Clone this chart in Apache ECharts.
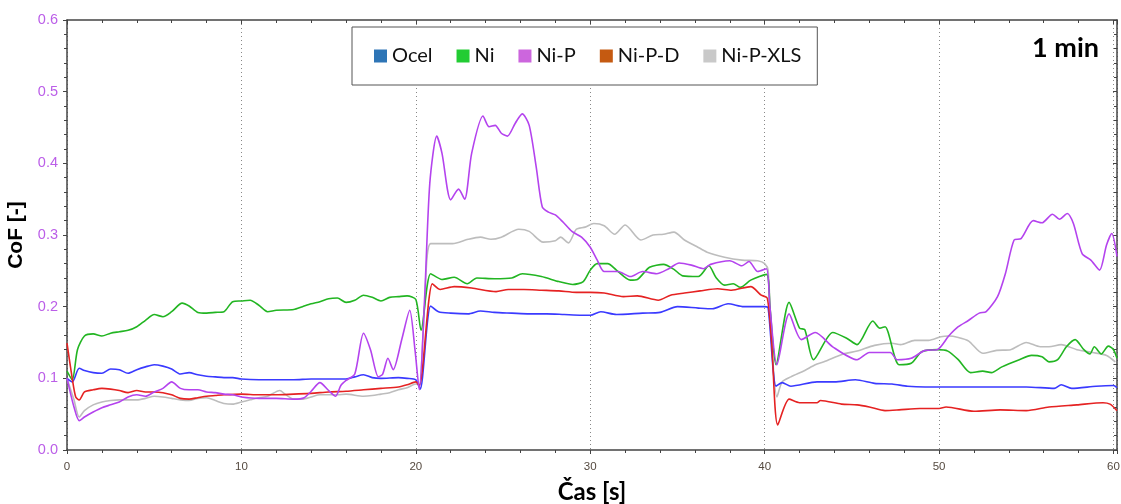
<!DOCTYPE html>
<html>
<head>
<meta charset="utf-8">
<script src="https://cdn.jsdelivr.net/npm/echarts@6/dist/echarts.min.js"></script>
<style>html,body{margin:0;padding:0;background:#fff;}#c{width:1121px;height:504px;}</style>
</head>
<body>
<div id="c"></div>
<script>
const seriesNames = ['Ocel', 'Ni', 'Ni-P', 'Ni-P-D', 'Ni-P-XLS'];
const xTicks = [0, 10, 20, 30, 40, 50, 60];
const yTicks = [0.0, 0.1, 0.2, 0.3, 0.4, 0.5, 0.6];

const ocel = [[0,0.100],[0.3,0.095],[0.7,0.114],[1,0.111],[1.5,0.108],[2,0.107],[2.5,0.113],[3,0.112],[3.5,0.107],[4,0.112],[4.5,0.116],[5,0.119],[5.5,0.117],[6,0.113],[6.5,0.106],[7,0.108],[7.5,0.105],[8,0.103],[8.5,0.102],[9,0.101],[9.5,0.101],[10,0.099],[11,0.098],[12,0.098],[13,0.098],[14,0.099],[15,0.099],[16,0.099],[16.5,0.102],[17,0.105],[17.5,0.101],[18,0.100],[19,0.101],[19.5,0.100],[20,0.098],[20.25,0.085],[20.85,0.201],[21.3,0.193],[22,0.191],[23,0.190],[23.7,0.194],[24.5,0.192],[25.5,0.191],[26.5,0.190],[27.5,0.190],[28.5,0.189],[29.5,0.188],[30,0.188],[30.6,0.193],[31.5,0.189],[33,0.191],[34,0.192],[35,0.200],[36.2,0.198],[37,0.197],[37.9,0.204],[38.8,0.200],[40,0.200],[40.2,0.198],[40.65,0.089],[41,0.094],[41.5,0.089],[43,0.095],[44,0.095],[45.2,0.098],[46.3,0.093],[47.3,0.092],[48.2,0.089],[49.2,0.088],[51,0.088],[53,0.088],[55,0.088],[56.6,0.086],[57,0.091],[57.6,0.086],[59,0.089],[60,0.090],[60.2,0.087]];

const ni = [[0,0.110],[0.3,0.098],[0.6,0.140],[1,0.159],[1.5,0.162],[2,0.159],[2.5,0.163],[3,0.165],[3.5,0.167],[4,0.172],[4.5,0.181],[5,0.189],[5.5,0.186],[6,0.193],[6.6,0.205],[7,0.201],[7.5,0.192],[8,0.191],[8.5,0.192],[9,0.193],[9.5,0.207],[10,0.208],[10.5,0.209],[11,0.202],[11.5,0.193],[12,0.195],[13,0.196],[13.5,0.200],[14,0.204],[14.5,0.207],[15,0.211],[15.5,0.212],[16,0.206],[16.5,0.209],[17,0.216],[17.5,0.213],[18,0.208],[18.5,0.213],[19,0.214],[19.5,0.215],[20,0.210],[20.3,0.167],[20.85,0.246],[21.5,0.238],[22.2,0.241],[22.95,0.232],[23.5,0.240],[24.5,0.239],[25.5,0.240],[26.1,0.246],[27.2,0.242],[28.2,0.235],[29,0.231],[29.6,0.235],[30,0.251],[30.4,0.260],[31,0.260],[31.5,0.251],[32.3,0.237],[32.7,0.238],[33.4,0.255],[34.2,0.259],[34.8,0.252],[35.3,0.243],[36.2,0.242],[36.8,0.257],[37.2,0.241],[37.7,0.230],[38.2,0.232],[38.6,0.227],[39.2,0.237],[40.1,0.245],[40.3,0.200],[40.65,0.119],[41.4,0.206],[42,0.170],[42.3,0.168],[42.8,0.126],[43.9,0.164],[44.7,0.156],[45.3,0.147],[46.2,0.180],[46.6,0.170],[46.9,0.172],[47.7,0.119],[48.4,0.121],[49,0.137],[49.9,0.140],[50.5,0.138],[51.1,0.126],[51.8,0.108],[52.5,0.110],[53,0.108],[53.6,0.116],[54.6,0.126],[55.3,0.132],[55.9,0.130],[56.3,0.123],[56.8,0.126],[57.3,0.144],[57.8,0.154],[58.3,0.140],[58.65,0.134],[58.9,0.144],[59.3,0.134],[59.7,0.145],[60,0.140],[60.2,0.128]];

const niP = [[0,0.100],[0.4,0.060],[0.7,0.041],[1,0.046],[1.5,0.053],[2,0.059],[2.5,0.063],[3,0.067],[3.5,0.074],[4,0.077],[4.5,0.075],[5,0.081],[5.5,0.086],[6,0.095],[6.5,0.086],[7,0.084],[7.5,0.084],[8,0.081],[8.5,0.080],[9,0.078],[9.5,0.077],[10,0.074],[11,0.072],[12,0.072],[13,0.071],[13.6,0.073],[14,0.082],[14.5,0.094],[15,0.083],[15.4,0.075],[15.7,0.090],[16,0.097],[16.5,0.106],[17,0.163],[17.4,0.140],[17.85,0.102],[18.1,0.106],[18.4,0.128],[18.7,0.112],[19.2,0.155],[19.65,0.195],[19.95,0.140],[20.2,0.084],[20.5,0.210],[20.8,0.372],[21.2,0.438],[21.5,0.414],[22,0.349],[22.45,0.364],[22.8,0.350],[23.2,0.414],[23.85,0.466],[24.2,0.451],[24.55,0.453],[24.9,0.442],[25.25,0.438],[25.7,0.456],[26.1,0.469],[26.5,0.453],[26.9,0.395],[27.25,0.339],[27.6,0.332],[28,0.328],[28.4,0.319],[28.95,0.305],[29.5,0.297],[30,0.283],[30.4,0.265],[30.8,0.249],[31.6,0.249],[32.3,0.242],[33,0.249],[33.8,0.246],[34.5,0.253],[35.1,0.261],[35.8,0.258],[36.5,0.253],[36.9,0.259],[38,0.264],[38.7,0.257],[39.1,0.263],[39.6,0.249],[40.1,0.253],[40.3,0.200],[40.7,0.119],[41.4,0.190],[42.1,0.154],[42.9,0.164],[43.9,0.144],[45.3,0.126],[46,0.136],[47.2,0.136],[47.6,0.126],[48.4,0.128],[49.2,0.139],[49.9,0.140],[50.55,0.159],[51.1,0.172],[51.7,0.181],[52.3,0.191],[52.7,0.193],[53.35,0.214],[53.8,0.246],[54.3,0.293],[54.7,0.295],[55.4,0.320],[55.9,0.317],[56.5,0.329],[56.9,0.322],[57.35,0.330],[57.7,0.316],[58.2,0.274],[58.7,0.265],[59.2,0.251],[59.6,0.286],[59.9,0.302],[60.2,0.270]];

const niPD = [[0,0.149],[0.3,0.100],[0.5,0.074],[0.7,0.070],[1,0.081],[1.5,0.084],[2,0.086],[2.5,0.085],[3,0.083],[3.5,0.080],[4,0.083],[4.5,0.081],[5,0.081],[5.5,0.080],[6,0.077],[6.5,0.072],[7,0.071],[7.5,0.073],[8,0.075],[8.5,0.076],[9,0.077],[10,0.078],[11,0.077],[12,0.077],[13,0.078],[14,0.079],[15,0.081],[16,0.082],[17,0.084],[18,0.086],[19,0.088],[19.5,0.091],[20,0.095],[20.2,0.090],[20.95,0.232],[21.4,0.224],[22.2,0.228],[23.2,0.226],[24.6,0.221],[25.3,0.224],[26.2,0.224],[27.2,0.223],[28.2,0.222],[29.2,0.220],[30,0.220],[30.8,0.219],[31.9,0.214],[32.7,0.215],[33.9,0.209],[34.6,0.216],[35.4,0.219],[36.3,0.222],[37.3,0.225],[38.1,0.223],[39.2,0.228],[39.8,0.216],[40.15,0.212],[40.4,0.150],[40.75,0.035],[41.4,0.071],[42,0.066],[43,0.066],[43.2,0.069],[44.4,0.064],[45.3,0.063],[46,0.060],[46.9,0.055],[47.7,0.056],[48.9,0.058],[50,0.058],[50.4,0.060],[52,0.054],[53.5,0.056],[55,0.055],[56.3,0.060],[57.9,0.063],[59.4,0.066],[59.8,0.064],[60.2,0.055]];

const niPXLS = [[0,0.100],[0.4,0.070],[0.7,0.046],[1,0.055],[1.5,0.063],[2,0.067],[2.5,0.069],[3,0.070],[4,0.070],[4.5,0.072],[5,0.075],[5.5,0.074],[6,0.072],[6.5,0.070],[7,0.069],[7.5,0.072],[8,0.073],[8.5,0.069],[9,0.065],[9.5,0.064],[10,0.067],[10.5,0.070],[11,0.073],[11.5,0.075],[12.2,0.083],[12.5,0.078],[13,0.071],[13.5,0.071],[14,0.074],[14.5,0.077],[15.5,0.077],[16,0.078],[17,0.075],[17.5,0.076],[18,0.078],[18.5,0.080],[19,0.084],[19.5,0.087],[20,0.092],[20.2,0.090],[20.5,0.200],[20.85,0.288],[22.1,0.288],[23,0.294],[23.7,0.297],[24.3,0.294],[24.9,0.297],[25.9,0.308],[26.5,0.305],[27.3,0.290],[28,0.292],[28.3,0.297],[28.75,0.289],[29.2,0.308],[29.7,0.311],[30.2,0.316],[30.8,0.313],[31.4,0.301],[32,0.314],[32.9,0.293],[33.6,0.300],[34.2,0.301],[34.8,0.304],[35.4,0.293],[36.1,0.284],[36.7,0.276],[37.7,0.269],[38.7,0.265],[39.6,0.264],[40.0,0.260],[40.2,0.250],[40.4,0.150],[40.7,0.074],[41,0.095],[41.5,0.102],[42.3,0.111],[42.9,0.119],[43.4,0.123],[44.5,0.134],[45.3,0.138],[46.3,0.146],[47.3,0.149],[47.8,0.147],[48.6,0.153],[49.4,0.153],[50.1,0.158],[50.55,0.159],[51.1,0.157],[51.7,0.152],[52.5,0.135],[53.3,0.139],[54.1,0.140],[55,0.150],[55.8,0.144],[56.3,0.144],[57,0.147],[57.9,0.140],[58.8,0.136],[59.6,0.132],[60.1,0.123]];

const lineColors = ['#3a3aff', '#22b522', '#b443ee', '#e52222', '#bdbdbd'];
const legendColors = ['#2e75b6', '#22cc33', '#cc66dd', '#c55a11', '#c9c9c9'];
const allData = [ocel, ni, niP, niPD, niPXLS];

const chart = echarts.init(document.getElementById('c'), null, {renderer: 'canvas'});
const xMax = 60.2;
const axisCol = '#444';
const baseX = {
  type: 'value', min: 0, max: xMax, interval: 10
};
const option = {
  animation: false,
  backgroundColor: '#fff',
  grid: {left: 67, right: 4, top: 20, bottom: 54, show: false, containLabel: false, outerBoundsMode: 'none'},
  title: {
    text: '1 min', right: 17, top: 30,
    textStyle: {fontFamily: 'Lato', fontWeight: 'bold', fontSize: 27, color: '#000'}
  },
  legend: {
    left: 352, top: 27,
    padding: [19, 16, 19, 22],
    borderColor: '#555', borderWidth: 1, backgroundColor: '#fff',
    itemWidth: 13, itemHeight: 13, itemGap: 24,
    icon: 'rect',
    textStyle: {fontFamily: 'Lato', fontSize: 20, color: '#111'},
    data: seriesNames.map((n, i) => ({name: n, itemStyle: {color: legendColors[i]}}))
  },
  xAxis: [
    Object.assign({}, baseX, {
      position: 'bottom',
      name: 'Čas [s]', nameLocation: 'middle', nameGap: 30,
      nameTextStyle: {fontFamily: 'Lato', fontWeight: 'bold', fontSize: 24, color: '#000'},
      axisLine: {show: true, onZero: false, lineStyle: {color: axisCol, width: 1.5}},
      axisTick: {show: true, length: 4, lineStyle: {color: axisCol}},
      minorTick: {show: true, splitNumber: 5, length: 3, lineStyle: {color: axisCol}},
      axisLabel: {
        margin: 11, fontSize: 11.5, color: '#554a40', fontFamily: 'Liberation Sans Narrow, Liberation Sans',
        formatter: v => (xTicks.indexOf(v) >= 0 ? String(v) : '')
      },
      splitLine: {show: true, lineStyle: {color: '#888', type: [1, 3], width: 1}}
    }),
    Object.assign({}, baseX, {
      position: 'top',
      axisLine: {show: true, onZero: false, lineStyle: {color: axisCol, width: 1.5}},
      axisTick: {show: true, inside: true, length: 4, lineStyle: {color: axisCol}},
      minorTick: {show: true, splitNumber: 5, length: 3, lineStyle: {color: axisCol}},
      axisLabel: {show: false},
      splitLine: {show: false}
    })
  ],
  yAxis: [
    {
      type: 'value', min: 0, max: 0.6, interval: 0.1, position: 'left',
      name: 'CoF [-]', nameLocation: 'middle', nameGap: 30,
      nameTextStyle: {fontFamily: 'Liberation Sans', fontWeight: 'bold', fontSize: 21, color: '#000'},
      axisLine: {show: true, onZero: false, lineStyle: {color: axisCol, width: 1.5}},
      axisTick: {show: true, length: 4, lineStyle: {color: axisCol}},
      minorTick: {show: true, splitNumber: 5, length: 3, lineStyle: {color: axisCol}},
      axisLabel: {
        margin: 9, fontSize: 14.5, color: '#bb5ee8', fontFamily: 'Liberation Sans',
        formatter: v => v.toFixed(1)
      },
      splitLine: {show: false}
    },
    {
      type: 'value', min: 0, max: 0.6, interval: 0.1, position: 'right',
      axisLine: {show: true, onZero: false, lineStyle: {color: axisCol, width: 1.5}},
      axisTick: {show: true, inside: true, length: 4, lineStyle: {color: axisCol}},
      minorTick: {show: true, splitNumber: 5, length: 3, lineStyle: {color: axisCol}},
      axisLabel: {show: false},
      splitLine: {show: false}
    }
  ],
  series: seriesNames.map((n, i) => ({
    name: n, type: 'line', xAxisIndex: 0, yAxisIndex: 0,
    data: allData[i], showSymbol: false, symbol: 'none',
    smooth: 0.25,
    lineStyle: {color: lineColors[i], width: 1.6},
    itemStyle: {color: lineColors[i]},
    z: [3, 3, 5, 3, 2][i]
  }))
};
chart.setOption(option);
</script>
</body>
</html>
